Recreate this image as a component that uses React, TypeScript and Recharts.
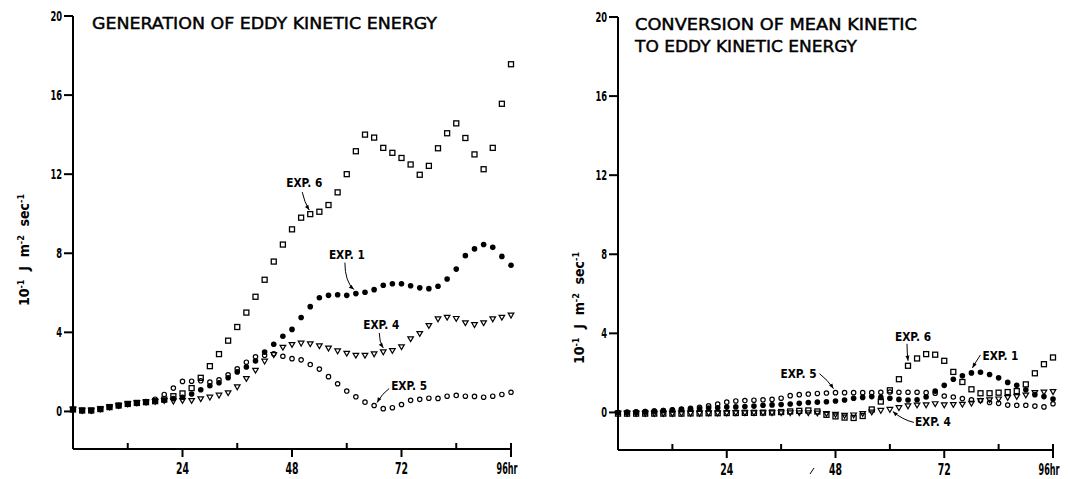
import { ScatterChart, Scatter, XAxis, YAxis, ReferenceDot } from 'recharts'

const FONT = "'DejaVu Sans Condensed', 'Liberation Sans Narrow', 'DejaVu Sans', sans-serif"
const TITLE_FONT = "'DejaVu Sans', 'Noto Sans', sans-serif"

// hours of integration, one value every 2 hr
const hours = [
  0, 2, 4, 6, 8, 10, 12, 14, 16, 18, 20, 22, 24, 26, 28, 30, 32, 34, 36, 38, 40, 42, 44, 46, 48,
  50, 52, 54, 56, 58, 60, 62, 64, 66, 68, 70, 72, 74, 76, 78, 80, 82, 84, 86, 88, 90, 92, 94, 96,
]
const xTicks = [12, 24, 36, 48, 60, 72, 84, 96]
const yTicks = [0, 4, 8, 12, 16, 20]

// generation of eddy kinetic energy (10^-1 J m^-2 sec^-1)
const genExp1 = [
  0.1, 0.05, 0.05, 0.12, 0.22, 0.3, 0.38, 0.43, 0.47, 0.52, 0.56, 0.65, 0.72, 0.88, 1.1, 1.3, 1.45,
  1.7, 2.0, 2.25, 2.55, 3.0, 3.4, 3.8, 4.15, 4.75, 5.3, 5.75, 5.87, 5.9, 5.87, 5.96, 6.03, 6.16,
  6.38, 6.46, 6.46, 6.36, 6.25, 6.21, 6.33, 6.7, 7.2, 7.88, 8.22, 8.44, 8.3, 7.84, 7.39,
]
const genExp4 = [
  0.1, 0.05, 0.05, 0.12, 0.22, 0.3, 0.38, 0.43, 0.47, 0.5, 0.55, 0.52, 0.55, 0.55, 0.64, 0.72, 0.82,
  0.94, 1.24, 1.66, 2.08, 2.54, 2.87, 3.24, 3.38, 3.45, 3.42, 3.32, 3.2, 3.06, 2.94, 2.84, 2.84,
  2.91, 3.01, 3.08, 3.27, 3.67, 3.94, 4.34, 4.68, 4.76, 4.7, 4.48, 4.39, 4.48, 4.68, 4.76, 4.87,
]
const genExp5 = [
  0.1, 0.05, 0.05, 0.12, 0.22, 0.3, 0.38, 0.43, 0.5, 0.62, 0.86, 1.18, 1.52, 1.53, 1.55, 1.48, 1.6,
  1.85, 2.15, 2.49, 2.76, 2.84, 2.92, 2.79, 2.67, 2.61, 2.37, 2.14, 1.76, 1.4, 1.03, 0.74, 0.47,
  0.3, 0.14, 0.19, 0.35, 0.56, 0.61, 0.67, 0.66, 0.77, 0.81, 0.77, 0.76, 0.72, 0.77, 0.86, 0.97,
]
const genExp6 = [
  0.1, 0.05, 0.05, 0.12, 0.22, 0.3, 0.38, 0.43, 0.47, 0.52, 0.6, 0.77, 0.91, 1.18, 1.7, 2.29, 2.9,
  3.58, 4.27, 5.0, 5.8, 6.66, 7.58, 8.44, 9.21, 9.8, 9.98, 10.1, 10.44, 11.08, 12.0, 13.16, 14.0,
  13.85, 13.33, 13.08, 12.82, 12.49, 11.97, 12.42, 13.31, 14.07, 14.57, 13.83, 13.0, 12.25, 13.33,
  15.56, 17.56,
]

// conversion of mean kinetic to eddy kinetic energy
const convExp1 = [
  0, 0.02, 0.03, 0.05, 0.07, 0.1, 0.12, 0.14, 0.16, 0.19, 0.22, 0.24, 0.27, 0.28, 0.3, 0.32, 0.36,
  0.38, 0.4, 0.43, 0.46, 0.5, 0.52, 0.54, 0.58, 0.63, 0.72, 0.76, 0.8, 0.76, 0.72, 0.66, 0.63, 0.64,
  0.78, 1.08, 1.37, 1.68, 1.85, 2.0, 2.03, 1.92, 1.75, 1.52, 1.37, 1.15, 0.9, 0.8, 0.68,
]
const convExp4 = [
  -0.05, -0.05, -0.05, -0.05, -0.05, -0.05, -0.05, -0.04, -0.04, -0.04, -0.03, -0.03, -0.03, -0.02,
  -0.02, -0.02, -0.02, -0.02, -0.02, -0.02, -0.02, -0.02, -0.03, -0.06, -0.1, -0.15, -0.13, -0.06,
  0.02, 0.1, 0.15, 0.24, 0.33, 0.37, 0.38, 0.44, 0.38, 0.4, 0.41, 0.46, 0.6, 0.64, 0.68, 0.75, 0.8,
  0.88, 1.0, 1.03, 1.05,
]
const convExp5 = [
  0, 0, 0.02, 0.04, 0.07, 0.1, 0.13, 0.17, 0.21, 0.26, 0.33, 0.42, 0.52, 0.58, 0.6, 0.62, 0.64, 0.66,
  0.72, 0.85, 0.9, 0.93, 0.96, 0.98, 1.0, 1.0, 1.0, 1.0, 1.0, 1.02, 1.03, 1.02, 1.02, 1.02, 1.0,
  0.97, 0.83, 0.78, 0.7, 0.64, 0.6, 0.5, 0.46, 0.37, 0.36, 0.36, 0.32, 0.28, 0.44,
]
const convExp6 = [
  -0.06, -0.06, -0.06, -0.06, -0.06, -0.06, -0.06, -0.06, -0.05, -0.05, -0.04, -0.04, -0.03, -0.03,
  -0.02, -0.02, -0.01, 0, 0.02, 0.05, 0.08, 0.1, 0.05, -0.12, -0.2, -0.26, -0.28, -0.18, 0.15, 0.55,
  1.12, 1.68, 2.36, 2.73, 2.95, 2.92, 2.61, 2.05, 1.54, 1.17, 0.97, 0.97, 1.0, 1.03, 1.08, 1.42,
  1.98, 2.44, 2.78,
]

// labels pointing at a point: text offset and arrow (start, bend, tip) in px from the point
type Note = { x: number; y: number; text: string; dx: number; dy: number; arrow: number[] }

const genNotes: Note[] = [
  { x: 52, y: 9.98, text: 'EXP. 6', dx: -24, dy: -27, arrow: [-8, -22, -6, -12, -1, -4] },
  { x: 62, y: 5.96, text: 'EXP. 1', dx: -27, dy: -35, arrow: [-11, -31, -11, -12, -2, -4] },
  { x: 68, y: 3.01, text: 'EXP. 4', dx: -20, dy: -23, arrow: [-4, -19, -4, -10, 0, -4] },
  { x: 66, y: 0.3, text: 'EXP. 5', dx: 17, dy: -16, arrow: [15, -17, 8, -12, 3, -3] },
]
const convNotes: Note[] = [
  { x: 64, y: 2.36, text: 'EXP. 6', dx: -13, dy: -25, arrow: [-1, -22, -1, -14, 0, -5] },
  { x: 78, y: 2.0, text: 'EXP. 1', dx: 11, dy: -13, arrow: [9, -18, 5, -12, 1, -5] },
  { x: 48, y: 1.0, text: 'EXP. 5', dx: -55, dy: -15, arrow: [-16, -19, -8, -13, -2, -4] },
  { x: 60, y: 0.15, text: 'EXP. 4', dx: 25, dy: 17, arrow: [24, 13, 12, 10, 3, 2] },
]

const pts = (vals: number[]) => vals.map((y, i) => ({ x: hours[i], y }))

const Square = (p: any) => (
  <rect x={p.cx - 2.5} y={p.cy - 2.5} width={5} height={5} fill="none" stroke="#000" strokeWidth={1.3} />
)
const Disc = (p: any) => <circle cx={p.cx} cy={p.cy} r={2.8} fill="#000" />
const Ring = (p: any) => (
  <circle cx={p.cx} cy={p.cy} r={2.2} fill="none" stroke="#000" strokeWidth={1.2} />
)
const Tri = (p: any) => (
  <path
    d={`M${p.cx - 2.8},${p.cy - 2} L${p.cx + 2.8},${p.cy - 2} L${p.cx},${p.cy + 2.8} Z`}
    fill="none"
    stroke="#000"
    strokeWidth={1.2}
  />
)

function head(x1: number, y1: number, x2: number, y2: number) {
  const d = Math.hypot(x2 - x1, y2 - y1) || 1
  const ux = (x2 - x1) / d
  const uy = (y2 - y1) / d
  const bx = x2 - ux * 5
  const by = y2 - uy * 5
  return `${x2},${y2} ${bx - uy * 2},${by + ux * 2} ${bx + uy * 2},${by - ux * 2}`
}

function NoteMark(props: any) {
  const { cx, cy, n } = props
  const [sx, sy, qx, qy, ex, ey] = n.arrow
  return (
    <g>
      <text
        x={cx + n.dx}
        y={cy + n.dy}
        fontFamily={FONT}
        fontWeight="bold"
        fontSize={13}
        textLength={36}
        lengthAdjust="spacingAndGlyphs"
      >
        {n.text}
      </text>
      <path
        d={`M${cx + sx},${cy + sy} Q${cx + qx},${cy + qy} ${cx + ex},${cy + ey}`}
        fill="none"
        stroke="#000"
        strokeWidth={1}
      />
      <polygon points={head(cx + qx, cy + qy, cx + ex, cy + ey)} fill="#000" />
    </g>
  )
}

function XTick(props: any) {
  const { x, y, payload } = props
  const v = payload.value
  if (v % 24 !== 0) {
    return (
      <g>
        <path d={`M${x},${y} V${y - 6}`} stroke="#000" strokeWidth={2} fill="none" />
      </g>
    )
  }
  const last = v === 96
  const w = last ? 21 : 13
  return (
    <g>
      <path d={`M${x},${last ? y - 6 : y} V${y + 8}`} stroke="#000" strokeWidth={2} fill="none" />
      <g transform={`translate(${last ? x - 4 : x},${y + 25}) scale(0.6,1)`}>
        <text
          x={0}
          y={0}
          textAnchor="middle"
          fontFamily={FONT}
          fontWeight="bold"
          fontSize={16}
          textLength={w / 0.6}
          lengthAdjust="spacingAndGlyphs"
        >
          {last ? '96hr' : String(v)}
        </text>
      </g>
    </g>
  )
}

function YTick(props: any) {
  const { x, y, payload } = props
  const s = String(payload.value)
  return (
    <g>
      <path d={`M${x - 9},${y} H${x}`} stroke="#000" strokeWidth={2} fill="none" />
      <text
        x={x - 11}
        y={y + 5}
        textAnchor="end"
        fontFamily={FONT}
        fontWeight="bold"
        fontSize={14}
        textLength={s.length * 5.8}
        lengthAdjust="spacingAndGlyphs"
      >
        {s}
      </text>
    </g>
  )
}

function Panel({ width, margin, e1, e4, e5, e6, notes }: any) {
  return (
    <ScatterChart width={width} height={479} margin={margin}>
      <XAxis
        type="number"
        dataKey="x"
        domain={[0, 96]}
        ticks={xTicks}
        interval={0}
        height={1}
        tickSize={0}
        tickMargin={0}
        tickLine={false}
        axisLine={{ stroke: '#000', strokeWidth: 2 }}
        tick={<XTick />}
      />
      <YAxis
        type="number"
        dataKey="y"
        domain={[-1.9, 20]}
        ticks={yTicks}
        interval={0}
        width={1}
        tickSize={0}
        tickMargin={0}
        tickLine={false}
        axisLine={{ stroke: '#000', strokeWidth: 2 }}
        tick={<YTick />}
      />
      <Scatter data={pts(e6)} shape={Square} isAnimationActive={false} />
      <Scatter data={pts(e4)} shape={Tri} isAnimationActive={false} />
      <Scatter data={pts(e5)} shape={Ring} isAnimationActive={false} />
      <Scatter data={pts(e1)} shape={Disc} isAnimationActive={false} />
      {notes.map((n: Note) => (
        <ReferenceDot
          key={n.text}
          x={n.x}
          y={n.y}
          ifOverflow="visible"
          shape={(p: any) => <NoteMark {...p} n={n} />}
        />
      ))}
    </ScatterChart>
  )
}

const NB = '\u00a0'

function UnitLabel({ x, y }: { x: number; y: number }) {
  return (
    <text
      transform={`translate(${x},${y}) rotate(-90)`}
      textAnchor="middle"
      fontFamily={FONT}
      fontWeight="bold"
      fontSize={14}
    >
      10
      <tspan dy={-5} fontSize={9}>-1</tspan>
      <tspan dy={5}>{`${NB}${NB}J${NB}${NB}m`}</tspan>
      <tspan dy={-5} fontSize={9}>-2</tspan>
      <tspan dy={5}>{`${NB}${NB}sec`}</tspan>
      <tspan dy={-5} fontSize={9}>-1</tspan>
    </text>
  )
}

export default function App() {
  return (
    <div style={{ position: 'absolute', left: 0, top: 0, width: 1068, height: 479, background: '#fff' }}>
      <div style={{ position: 'absolute', left: 0, top: 0 }}>
        <Panel
          width={540}
          margin={{ top: 16, right: 29, bottom: 29, left: 72 }}
          e1={genExp1}
          e4={genExp4}
          e5={genExp5}
          e6={genExp6}
          notes={genNotes}
        />
      </div>
      <div style={{ position: 'absolute', left: 540, top: 0 }}>
        <Panel
          width={528}
          margin={{ top: 17, right: 15, bottom: 28, left: 77 }}
          e1={convExp1}
          e4={convExp4}
          e5={convExp5}
          e6={convExp6}
          notes={convNotes}
        />
      </div>
      <svg
        width={1068}
        height={479}
        style={{ position: 'absolute', left: 0, top: 0, pointerEvents: 'none' }}
      >
        <g fontFamily={TITLE_FONT} fontSize={16} fill="#000" stroke="#000" strokeWidth={0.45}>
          <text x={92} y={28.5} textLength={345} lengthAdjust="spacingAndGlyphs">
            GENERATION OF EDDY KINETIC ENERGY
          </text>
          <text x={635} y={30} textLength={282} lengthAdjust="spacingAndGlyphs">
            CONVERSION OF MEAN KINETIC
          </text>
          <text x={635} y={51.5} textLength={222} lengthAdjust="spacingAndGlyphs">
            TO EDDY KINETIC ENERGY
          </text>
        </g>
        <UnitLabel x={29} y={250} />
        <UnitLabel x={584} y={308} />
        <line x1={810} y1={474} x2={814} y2={468} stroke="#000" strokeWidth={1} />
      </svg>
    </div>
  )
}
